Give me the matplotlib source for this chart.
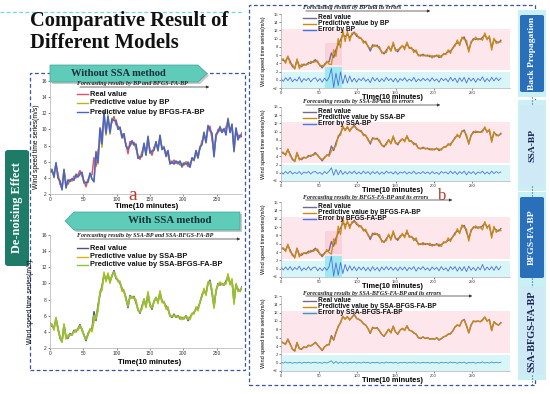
import numpy as np
import matplotlib.pyplot as plt
from matplotlib.patches import Polygon, FancyBboxPatch, Rectangle, FancyArrowPatch
from matplotlib.lines import Line2D

W, H = 550, 394
SANS = ['Liberation Sans', 'DejaVu Sans']
SERIF = ['Liberation Serif', 'DejaVu Serif']

# wind speed, one reading every 3 steps (10 minutes each)
time_step = 3
real_value = [5.1, 4.7, 4.5, 5.6, 4.5, 3.2, 2.8, 4.8, 3.4, 3.2,
              3.8, 3.6, 4.2, 4.0, 4.4, 4.9, 4.2, 3.6, 2.9, 3.8,
              4.2, 4.4, 6.5, 5.4, 7.3, 8.6, 9.7, 11.0, 10.5, 11.0,
              10.3, 10.9, 11.6, 10.6, 10.4, 10.0, 9.4, 9.0, 8.2, 7.0,
              8.5, 8.2, 8.4, 7.6, 6.8, 6.3, 7.2, 8.0, 7.2, 8.7,
              7.4, 6.8, 7.8, 8.2, 7.8, 8.8, 7.8, 7.6, 7.2, 6.8,
              6.0, 5.8, 6.2, 5.8, 6.0, 5.6, 5.8, 5.6, 6.0, 5.4,
              5.8, 6.2, 6.4, 6.8, 7.0, 7.6, 8.6, 9.0, 8.8, 10.0,
              10.4, 8.8, 7.2, 9.0, 10.0, 9.8, 10.0, 9.8, 10.3, 10.9,
              10.0, 10.3, 7.8, 9.8, 9.3, 9.0, 9.6]

# forecasting errors (real - predicted)
err_bp = [0.3, -0.4, 0.5, -0.2, 0.6, -0.5, 0.2, -0.3, 0.7, -0.6,
          0.3, -0.2, 0.4, -0.5, 0.2, 0.5, -0.4, 0.3, -0.6, 0.4,
          -0.3, 0.6, 2.8, -1.9, 1.6, -1.4, 1.9, -1.0, 1.2, -0.8,
          0.9, -0.5, 0.4, -0.6, 0.3, -0.2, 0.5, -0.4, 0.2, -0.7,
          0.6, -0.3, 0.4, -0.5, 0.3, -0.4, 0.6, -0.2, 0.3, -0.5,
          0.4, -0.6, 0.3, -0.2, 0.5, -0.4, 0.2, -0.3, 0.6, -0.5,
          0.2, -0.3, 0.4, -0.2, 0.3, -0.4, 0.5, -0.3, 0.2, -0.6,
          0.4, -0.2, 0.3, -0.5, 0.6, -0.3, 0.4, -0.7, 0.5, -0.4,
          0.6, -0.8, 0.5, -0.3, 0.4, -0.6, 0.3, -0.2, 0.7, -0.5,
          0.3, -0.4, 0.6, -0.3, 0.5, -0.2, 0.4]
err_ssa_bp = [0.2, -0.3, 0.3, -0.2, 0.4, -0.3, 0.1, -0.2, 0.3, -0.4,
              0.2, -0.1, 0.3, -0.3, 0.2, 0.3, -0.2, 0.1, -0.4, 0.3,
              -0.2, 0.4, 1.2, -0.6, 0.8, -0.5, 0.6, -0.4, 0.3, -0.3,
              0.3, -0.2, 0.4, -0.3, 0.2, -0.3, 0.4, -0.2, 0.3, -0.4,
              0.3, -0.2, 0.3, -0.4, 0.2, -0.3, 0.4, -0.1, 0.2, -0.3,
              0.3, -0.4, 0.2, -0.1, 0.3, -0.3, 0.2, -0.2, 0.4, -0.3,
              0.1, -0.2, 0.3, -0.2, 0.2, -0.3, 0.3, -0.2, 0.1, -0.4,
              0.3, -0.1, 0.2, -0.3, 0.4, -0.2, 0.3, -0.4, 0.3, -0.2,
              0.4, -0.5, 0.3, -0.2, 0.3, -0.4, 0.2, -0.1, 0.4, -0.3,
              0.2, -0.3, 0.4, -0.2, 0.3, -0.1, 0.2]
err_bfgs = [0.4, -0.3, 0.4, -0.3, 0.5, -0.4, 0.3, -0.2, 0.6, -0.5,
            0.2, -0.3, 0.5, -0.4, 0.3, 0.4, -0.5, 0.2, -0.5, 0.3,
            -0.4, 0.5, 3.0, -1.8, 1.4, -1.6, 1.5, -1.2, 1.0, -0.6,
            0.7, -0.4, 0.5, -0.5, 0.4, -0.3, 0.4, -0.5, 0.3, -0.6,
            0.5, -0.4, 0.3, -0.6, 0.4, -0.3, 0.5, -0.3, 0.4, -0.4,
            0.3, -0.5, 0.4, -0.3, 0.4, -0.5, 0.3, -0.2, 0.5, -0.6,
            0.3, -0.2, 0.5, -0.3, 0.2, -0.5, 0.4, -0.2, 0.3, -0.5,
            0.5, -0.3, 0.2, -0.6, 0.5, -0.2, 0.5, -0.6, 0.4, -0.5,
            0.5, -0.7, 0.6, -0.4, 0.3, -0.5, 0.4, -0.3, 1.0, -0.4,
            0.4, -0.3, 0.5, -0.4, 0.6, -0.3, 0.5]
err_ssa_bfgs = [0.1, -0.1, 0.15, -0.1, 0.1, -0.15, 0.05, -0.1, 0.1, -0.15,
                0.1, -0.05, 0.1, -0.1, 0.05, 0.1, -0.1, 0.05, -0.15, 0.1,
                -0.1, 0.15, 0.45, -0.2, 0.3, -0.2, 0.2, -0.15, 0.1, -0.1,
                0.1, -0.05, 0.15, -0.1, 0.05, -0.1, 0.15, -0.05, 0.1, -0.15,
                0.1, -0.05, 0.1, -0.15, 0.05, -0.1, 0.15, -0.05, 0.1, -0.1,
                0.1, -0.15, 0.05, -0.05, 0.1, -0.1, 0.05, -0.05, 0.15, -0.1,
                0.05, -0.1, 0.1, -0.05, 0.05, -0.1, 0.1, -0.05, 0.05, -0.15,
                0.1, -0.05, 0.05, -0.1, 0.15, -0.05, 0.1, -0.15, 0.1, -0.05,
                0.15, -0.2, 0.1, -0.05, 0.1, -0.15, 0.05, -0.05, 0.2, -0.1,
                0.05, -0.1, 0.15, -0.05, 0.1, -0.05, 0.1]

x_ticks = [0, 50, 100, 150, 200, 250]
left_yticks = [2, 4, 6, 8, 10, 12, 14, 16]
right_yticks = [-2, 0, 2, 4, 6, 8, 10, 12, 14, 16]

model_names = ['BP', 'SSA-BP', 'BFGS-FA-BP', 'SSA-BFGS-FA-BP']
side_labels = ['Back Propagation', 'SSA-BP', 'BFGS-FA-BP', 'SSA-BFGS-FA-BP']

t = np.arange(len(real_value)) * time_step
real = np.array(real_value)
pred = {
    'BP': real - np.array(err_bp),
    'SSA-BP': real - np.array(err_ssa_bp),
    'BFGS-FA-BP': real - np.array(err_bfgs),
    'SSA-BFGS-FA-BP': real - np.array(err_ssa_bfgs),
}
errs = {'BP': err_bp, 'SSA-BP': err_ssa_bp,
        'BFGS-FA-BP': err_bfgs, 'SSA-BFGS-FA-BP': err_ssa_bfgs}

fig = plt.figure(figsize=(5.5, 3.94), dpi=100)
fig.patch.set_facecolor('white')


def fx(x):
    return x / W


def fy(y):
    return 1 - y / H


def px_axes(x0, y0, x1, y1):
    return fig.add_axes([fx(x0), fy(y1), (x1 - x0) / W, (y1 - y0) / H])


def style(ax, xmax, ylim, yticks, fs):
    ax.set_xlim(0, xmax)
    ax.set_ylim(*ylim)
    ax.set_xticks(x_ticks)
    ax.set_yticks(yticks)
    for s in ['top', 'right']:
        ax.spines[s].set_visible(False)
    for s in ['left', 'bottom']:
        ax.spines[s].set_color('#b0b0b0')
        ax.spines[s].set_linewidth(0.5)
    ax.tick_params(labelsize=fs, length=1.5, width=0.4, pad=0.8,
                   colors='#333333')
    for lab in ax.get_xticklabels() + ax.get_yticklabels():
        lab.set_family(SANS)
    ax.patch.set_alpha(0)


def legend_rows(x0, x1, ys, labels, colors, fs):
    for y, lab, c in zip(ys, labels, colors):
        fig.add_artist(Line2D([fx(x0), fx(x1)], [fy(y), fy(y)], color=c,
                              lw=1.0, transform=fig.transFigure))
        fig.text(fx(x1 + 2), fy(y), lab, fontsize=fs, fontweight='bold',
                 va='center', ha='left', family=SANS, color='#111111')


def caption(x, y, text, x_end):
    fig.text(fx(x), fy(y), text, fontsize=4.3, style='italic',
             weight='bold', family=SERIF, va='center', color='#222222')
    fig.add_artist(FancyArrowPatch((fx(x), fy(y + 3)), (fx(x_end), fy(y + 3)),
                                   transform=fig.transFigure,
                                   arrowstyle='-|>', mutation_scale=4,
                                   lw=0.5, color='#333333'))


def dashed_box(x0, y0, x1, y1, color):
    fig.add_artist(Rectangle((fx(x0), fy(y1)), (x1 - x0) / W, (y1 - y0) / H,
                             fill=False, ls=(0, (3, 2)), lw=0.9, ec=color,
                             transform=fig.transFigure))


# title
fig.text(fx(30), fy(21), 'Comparative Result of', fontsize=14.8,
         weight='bold', family=SERIF, va='center', color='#111111')
fig.text(fx(30), fy(43), 'Different Models', fontsize=14.8,
         weight='bold', family=SERIF, va='center', color='#111111')

# frames
fig.add_artist(Line2D([0, fx(243)], [fy(12), fy(12)], ls=(0, (3, 2)),
                      lw=0.9, color='#70d8e2', transform=fig.transFigure))
dashed_box(30, 73, 245, 370, '#3a55a0')
dashed_box(249, 5, 535, 385, '#3a55a0')

# banners
shadow = Polygon([(fx(52), fy(67)), (fx(200), fy(67)), (fx(209), fy(75.5)),
                  (fx(200), fy(84)), (fx(52), fy(84))],
                 closed=True, fc='#c8c8c8', ec='none', transform=fig.transFigure)
fig.add_artist(shadow)
fig.add_artist(Polygon([(fx(50), fy(65)), (fx(198), fy(65)), (fx(207), fy(73.5)),
                        (fx(198), fy(82)), (fx(50), fy(82))],
                       closed=True, fc='#5fcbb9', ec='#3aa595', lw=0.5,
                       transform=fig.transFigure))
fig.text(fx(118), fy(73.5), 'Without SSA method', fontsize=7.6, weight='bold',
         family=SERIF, ha='center', va='center', color='#16313a')

shadow2 = Polygon([(fx(67), fy(223)), (fx(76), fy(214)), (fx(242), fy(214)),
                   (fx(242), fy(232)), (fx(76), fy(232))],
                  closed=True, fc='#c8c8c8', ec='none', transform=fig.transFigure)
fig.add_artist(shadow2)
fig.add_artist(Polygon([(fx(65), fy(221)), (fx(74), fy(212)), (fx(240), fy(212)),
                        (fx(240), fy(230)), (fx(74), fy(230))],
                       closed=True, fc='#5fcbb9', ec='#3aa595', lw=0.5,
                       transform=fig.transFigure))
fig.text(fx(170), fy(221), 'With SSA method', fontsize=7.8, weight='bold',
         family=SERIF, ha='center', va='center', color='#16313a')

# de-noising label
fig.add_artist(FancyBboxPatch((fx(5), fy(266)), 24 / W, 116 / H,
                              boxstyle='round,pad=0,rounding_size=0.006',
                              fc='#1e7b68', ec='none', transform=fig.transFigure))
fig.text(fx(17), fy(208), 'De-noising Effect', fontsize=8.8, weight='bold',
         family=SERIF, rotation=90, ha='center', va='center', color='white')

# left top panel: without SSA
ax = px_axes(50, 81, 242, 194)
ax.plot(t, real, color='#e0506a', lw=1.1)
ax.plot(t, pred['BP'], color='#b7b322', lw=1.1)
ax.plot(t, pred['BFGS-FA-BP'], color='#4a62d0', lw=1.1)
style(ax, 288, (2, 16), left_yticks, 3.5)
fig.text(fx(37), fy(147), 'Wind speed time series(m/s)', fontsize=4.8,
         family=SANS, rotation=90, ha='center', va='center')
fig.text(fx(147), fy(207), 'Time(10 minutes)', fontsize=5.6, weight='bold',
         family=SANS, ha='center', va='center')
caption(77, 84, 'Forecasting results by BP and BFGS-FA-BP', 212)
legend_rows(77, 88, [94, 103, 112],
            ['Real value', 'Predictive value by BP',
             'Predictive value by BFGS-FA-BP'],
            ['#e0506a', '#b7b322', '#4a62d0'], 5.3)
fig.text(fx(133), fy(196), 'a', fontsize=14, family=SERIF, color='#b83a2a',
         ha='center', va='center')

# left bottom panel: with SSA
ax = px_axes(50, 235, 242, 348)
ax.plot(t, real, color='#5a4f7a', lw=1.1)
ax.plot(t, pred['SSA-BP'], color='#d8b410', lw=1.1)
ax.plot(t, pred['SSA-BFGS-FA-BP'], color='#8cc43c', lw=1.1)
style(ax, 288, (2, 16), left_yticks, 3.5)
fig.text(fx(31), fy(302), 'Wind speed time series(m/s)', fontsize=4.8,
         family=SANS, rotation=90, ha='center', va='center')
fig.text(fx(150), fy(362), 'Time(10 minutes)', fontsize=5.6, weight='bold',
         family=SANS, ha='center', va='center')
caption(77, 236, 'Forecasting results by SSA-BP and SSA-BFGS-FA-BP', 243)
legend_rows(77, 88, [248, 257, 265],
            ['Real value', 'Predictive value by SSA-BP',
             'Predictive value by SSA-BFGS-FA-BP'],
            ['#5a4f7a', '#d8b410', '#8cc43c'], 5.3)

# right panels
panel_tops = [14, 107, 202, 296]
panel_bottoms = [88, 181, 277, 371]
caption_y = [8, 102, 197, 293]
xlabel_y = [97.5, 190.5, 287, 380.5]
arrow_end = [433, 443, 455, 475]
legend_y = [[17.5, 23.5, 29.5], [111.5, 117.5, 123.5],
            [206.5, 212.5, 218.5], [301, 307, 313]]
err_colors = ['#4a6fe0', '#4a78e0', '#4a6fe0', '#3598c4']
box_tops = [15, 105, 197, 287]
box_bottoms = [92, 186, 278, 375]
box_dark = [True, False, True, False]

for i, name in enumerate(model_names):
    ax = px_axes(281, panel_tops[i], 510, panel_bottoms[i])
    ax.axhspan(2.4, 12.4, color='#fde7ed', lw=0)
    ax.axhspan(-2, 1.8, color='#d8f5f8', lw=0)
    if i in (0, 2):
        ax.axvspan(57, 80, ymin=0, ymax=5.0 / 18, color='#9fe9f1', lw=0)
        ax.axvspan(57, 80, ymin=5.5 / 18, ymax=11.0 / 18, color='#f9d2dc', lw=0)
    ax.plot(t, real, color='#75688f', lw=1.0)
    ax.plot(t, pred[name], color='#cf8a0c', lw=0.9)
    ax.plot(t, errs[name], color=err_colors[i], lw=0.6)
    style(ax, 300, (-2, 16), right_yticks, 3.0)
    mid = (panel_tops[i] + panel_bottoms[i]) / 2
    fig.text(fx(264), fy(mid), 'Wind speed time series(m/s)', fontsize=4.0,
             family=SANS, rotation=90, ha='center', va='center')
    fig.text(fx(392), fy(xlabel_y[i]), 'Time(10 minutes)',
             fontsize=5.3, weight='bold', family=SANS, ha='center', va='center')
    caption(303, caption_y[i], 'Forecasting results by %s and its errors' % name,
            arrow_end[i])
    legend_rows(303, 316, legend_y[i],
                ['Real value', 'Predictive value by %s' % name,
                 'Error by %s' % name],
                ['#75688f', '#cf8a0c', err_colors[i]], 4.8)

    # side label
    fig.add_artist(Rectangle((fx(518), fy(box_bottoms[i] + 5)), 28 / W,
                             (box_bottoms[i] - box_tops[i] + 10) / H,
                             fc='#c8f0f5', ec='none', transform=fig.transFigure))
    fc = '#2a6fba' if box_dark[i] else '#cfe9f6'
    tc = 'white' if box_dark[i] else '#15224f'
    fig.add_artist(FancyBboxPatch((fx(520), fy(box_bottoms[i])), 24 / W,
                                  (box_bottoms[i] - box_tops[i]) / H,
                                  boxstyle='round,pad=0,rounding_size=0.004',
                                  fc=fc, ec='none', transform=fig.transFigure))
    fig.text(fx(532), fy((box_tops[i] + box_bottoms[i]) / 2), side_labels[i],
             fontsize=6.8 if i < 3 else 7.4, weight='bold', family=SERIF,
             rotation=90, ha='center', va='center', color=tc)

fig.text(fx(442), fy(196), 'b', fontsize=12, family=SERIF, color='#b83a2a',
         ha='center', va='center')

# dotted connectors between side labels
for y0, y1 in [(97, 105), (186, 197), (278, 287), (375, 385)]:
    fig.add_artist(Line2D([fx(532), fx(532)], [fy(y0), fy(y1)], ls=':',
                          lw=0.8, color='#3a55a0', transform=fig.transFigure))

fig.savefig('out.png', dpi=100)
